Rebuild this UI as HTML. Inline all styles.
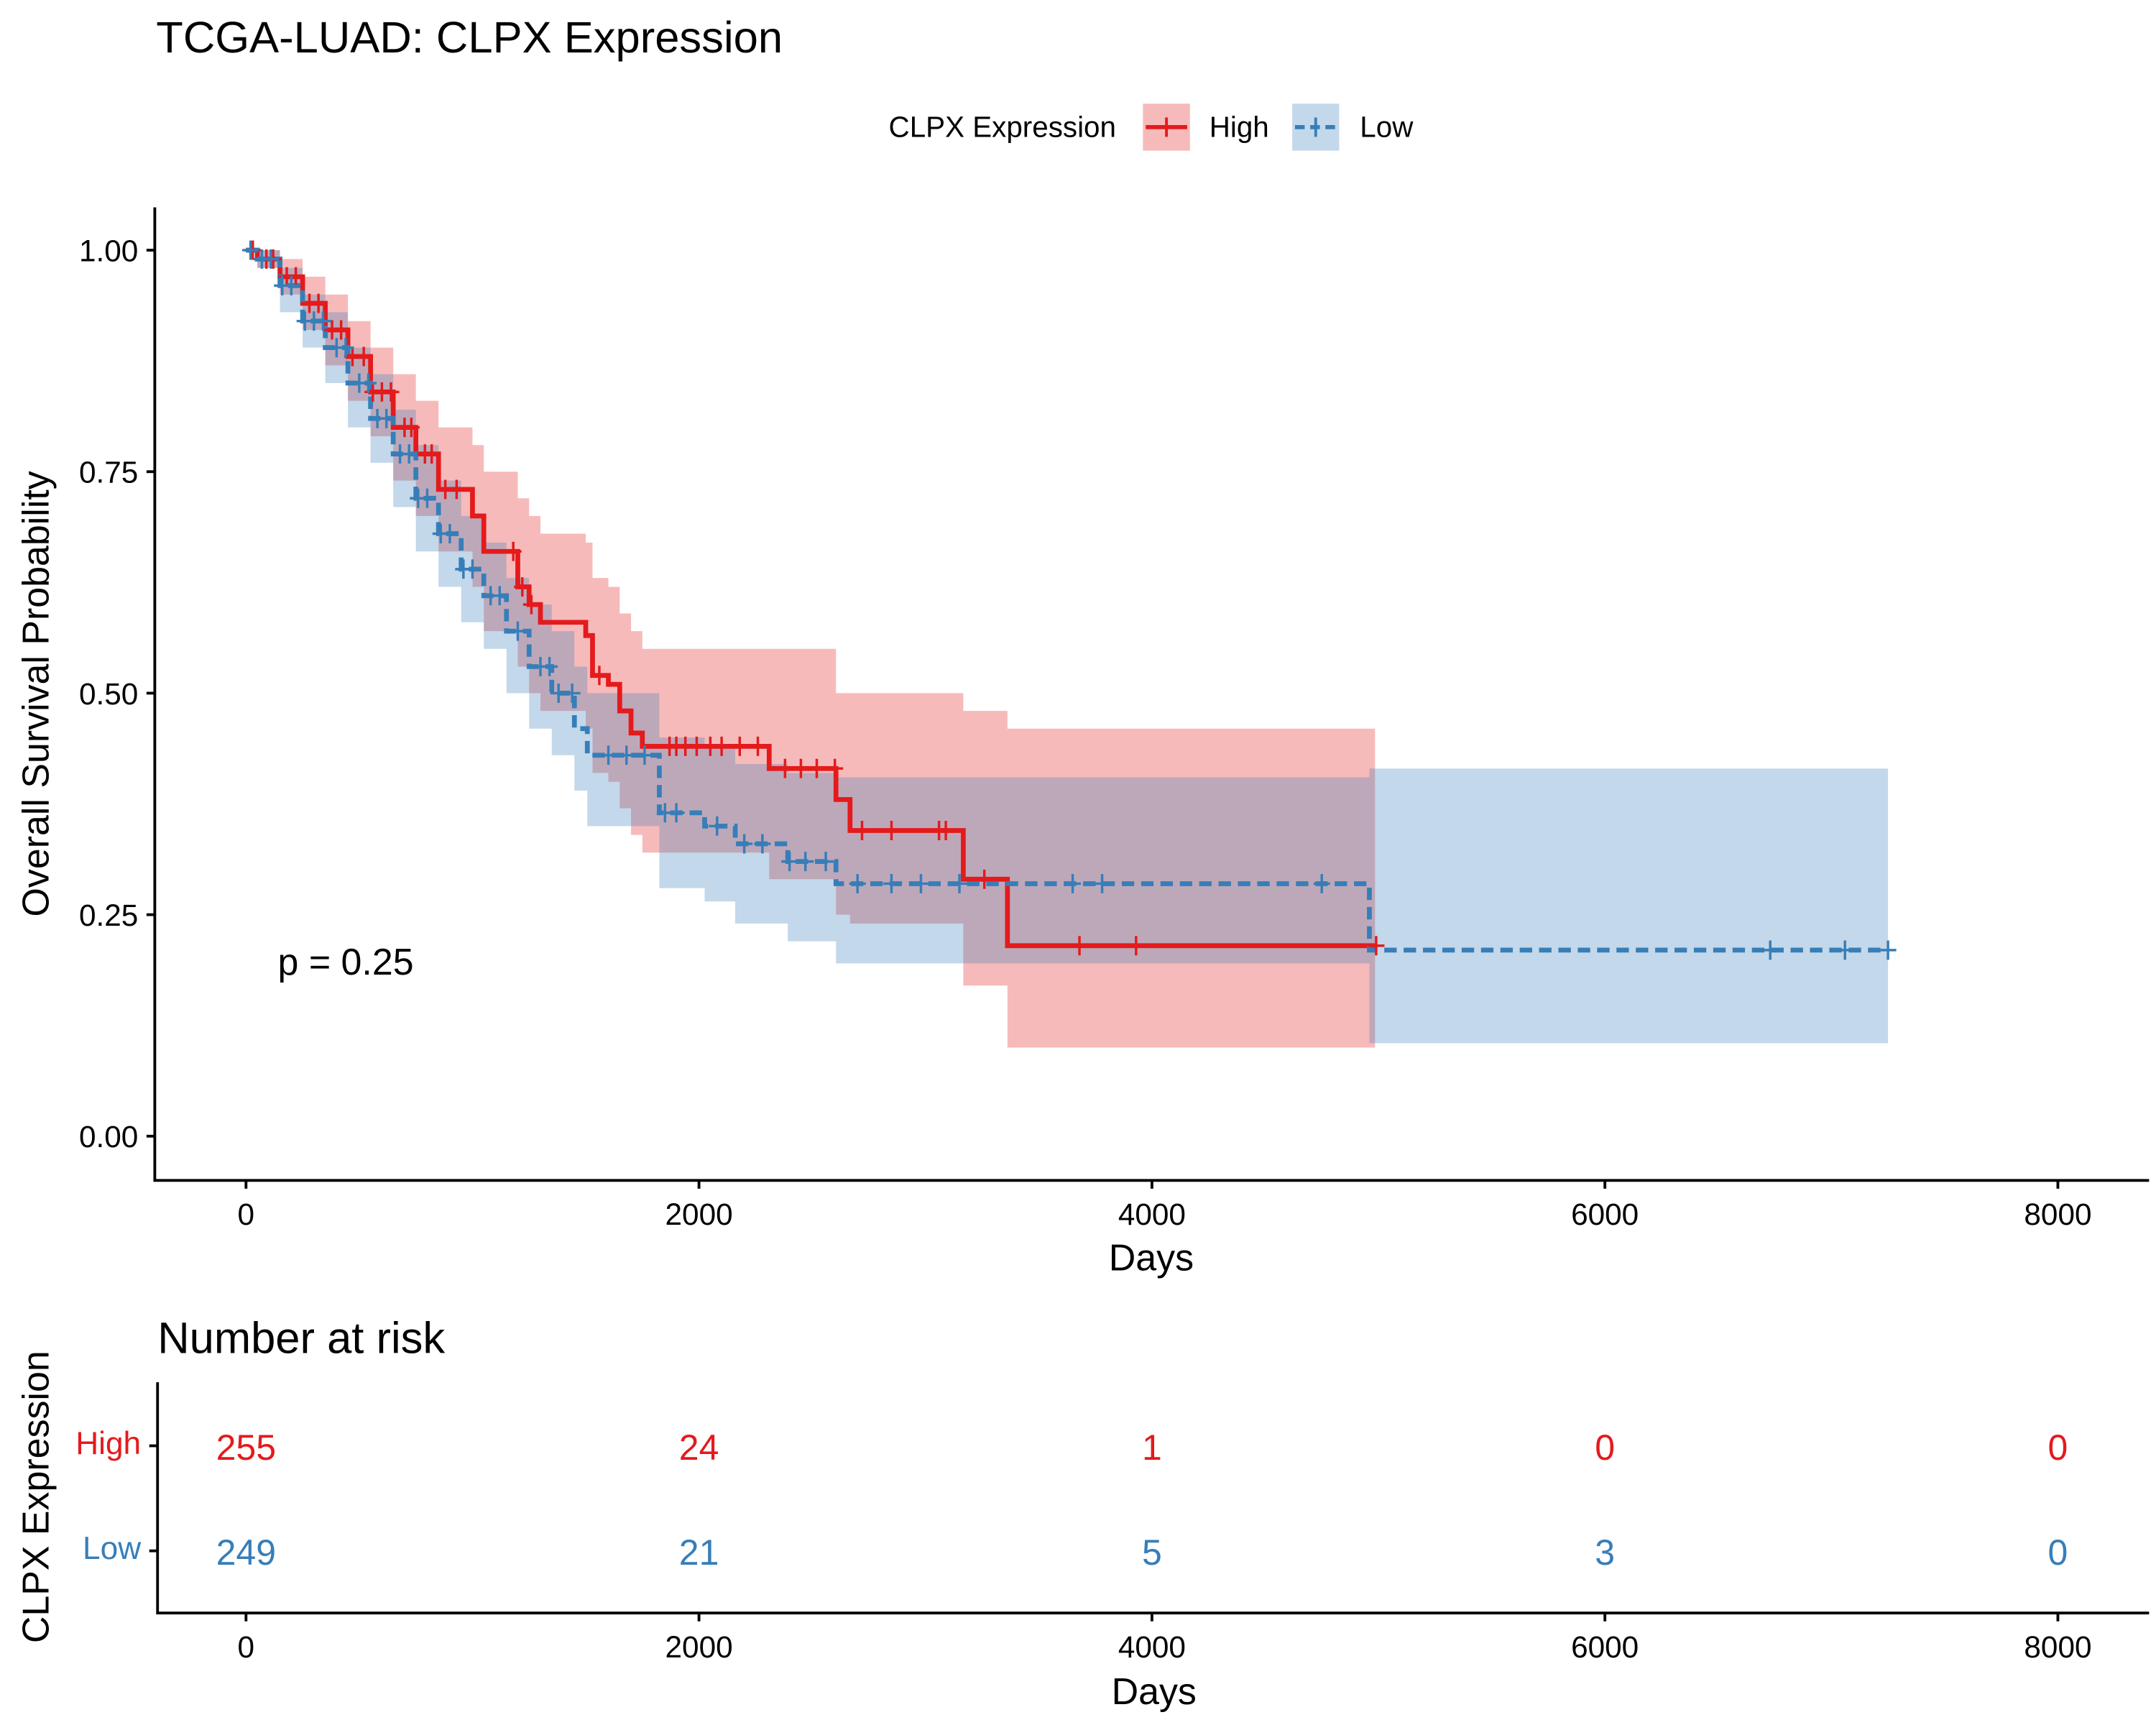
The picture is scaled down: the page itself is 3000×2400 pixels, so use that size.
<!DOCTYPE html>
<html><head><meta charset="utf-8"><style>
html,body{margin:0;padding:0;background:#fff}
svg{display:block;font-family:"Liberation Sans",Arial,sans-serif}
</style></head><body>
<svg id="chart" width="3000" height="2400" viewBox="0 0 1560 1248" xmlns="http://www.w3.org/2000/svg">
<text x="113" y="38" font-size="32">TCGA-LUAD: CLPX Expression</text>
<g>
<text x="643" y="99" font-size="21">CLPX Expression</text>
<rect x="827" y="75" width="34" height="34" fill="#E41A1C" fill-opacity="0.3"/>
<line x1="829" y1="92" x2="859" y2="92" stroke="#E41A1C" stroke-width="3"/><line x1="844" y1="85" x2="844" y2="99" stroke="#E41A1C" stroke-width="2"/>
<text x="875" y="99" font-size="21">High</text>
<rect x="935" y="75" width="34" height="34" fill="#377EB8" fill-opacity="0.3"/>
<line x1="937" y1="92" x2="967" y2="92" stroke="#377EB8" stroke-width="3" stroke-dasharray="7,4"/><line x1="952" y1="85" x2="952" y2="99" stroke="#377EB8" stroke-width="2"/>
<text x="984" y="99" font-size="21">Low</text>
</g>
<g id="plot"></g>
<g id="risk"></g>
</svg>
<script>
const highT=[0,50,150,250,350,450,550,650,750,850,1000,1050,1200,1250,1300,1500,1530,1600,1650,1700,1750,2310,2605,2667,3167,3362];
const highS=[1,0.99,0.97,0.94,0.91,0.88,0.84,0.80,0.77,0.73,0.70,0.66,0.62,0.60,0.58,0.565,0.52,0.51,0.48,0.455,0.44,0.415,0.38,0.345,0.29,0.215];
const highLo=[1,0.98,0.95,0.91,0.87,0.83,0.79,0.74,0.70,0.66,0.62,0.57,0.53,0.50,0.48,0.46,0.41,0.40,0.37,0.34,0.32,0.29,0.25,0.24,0.17,0.10];
const highUp=[1,1,0.99,0.97,0.95,0.92,0.89,0.86,0.83,0.80,0.78,0.75,0.72,0.70,0.68,0.67,0.63,0.62,0.59,0.57,0.55,0.55,0.50,0.50,0.48,0.46];
const highEnd=4985;
const highCens=[30,90,120,180,220,280,320,380,420,470,520,560,600,640,700,730,790,820,880,930,1180,1220,1260,1560,1870,1900,1940,1990,2050,2100,2180,2260,2380,2450,2520,2600,2720,2850,3060,3090,3260,3680,3930,4990];
const lowT=[0,50,150,250,350,450,550,650,750,850,950,1050,1150,1250,1350,1450,1507,1825,2025,2160,2392,2605,4960];
const lowS=[1,0.99,0.96,0.92,0.89,0.85,0.81,0.77,0.72,0.68,0.64,0.61,0.57,0.53,0.50,0.46,0.43,0.365,0.35,0.33,0.31,0.285,0.21];
const lowLo=[1,0.98,0.93,0.89,0.85,0.80,0.76,0.71,0.66,0.62,0.58,0.55,0.50,0.46,0.43,0.39,0.35,0.28,0.265,0.24,0.22,0.195,0.105];
const lowUp=[1,1,0.98,0.95,0.93,0.89,0.86,0.82,0.78,0.74,0.70,0.67,0.63,0.60,0.57,0.53,0.50,0.45,0.44,0.42,0.41,0.405,0.415];
const lowEnd=7250;
const lowCens=[20,70,110,160,200,260,300,340,400,440,500,540,580,620,680,720,760,800,860,900,960,1000,1080,1120,1200,1300,1340,1380,1440,1600,1680,1760,1850,1900,2080,2200,2280,2400,2470,2560,2700,2850,2980,3150,3650,3780,4750,6730,7060,7250];
const xTicks=[0,2000,4000,6000,8000];
const yTicks=[0,0.25,0.5,0.75,1];
const riskGroups=["High","Low"];
const riskHigh=[255,24,1,0,0];
const riskLow=[249,21,5,3,0];

const NS="http://www.w3.org/2000/svg";
const X=d=>178+d*(1489-178)/8000;
const Y=s=>822-s*(822-181);
function mk(tag,attrs,parent){const e=document.createElementNS(NS,tag);for(const k in attrs)e.setAttribute(k,attrs[k]);parent.appendChild(e);return e;}
const plot=document.getElementById('plot');
const risk=document.getElementById('risk');

function stepPath(T,S,end){let d=`M${X(T[0])},${Y(S[0])}`;for(let i=1;i<T.length;i++){d+=`H${X(T[i])}V${Y(S[i])}`;}d+=`H${X(end)}`;return d;}
function ribbon(T,Lo,Up,end){let top=`M${X(T[0])},${Y(Up[0])}`;for(let i=1;i<T.length;i++)top+=`H${X(T[i])}V${Y(Up[i])}`;top+=`H${X(end)}V${Y(Lo[Lo.length-1])}`;for(let i=T.length-1;i>=1;i--)top+=`H${X(T[i])}V${Y(Lo[i-1])}`;top+=`H${X(T[0])}Z`;return top;}
function survAt(T,S,t){let s=S[0];for(let i=0;i<T.length;i++)if(T[i]<=t)s=S[i];return s;}

const rh=mk('path',{d:ribbon(highT,highLo,highUp,highEnd),fill:'#E41A1C','fill-opacity':0.3},plot);


const rl=mk('path',{d:ribbon(lowT,lowLo,lowUp,lowEnd),fill:'#377EB8','fill-opacity':0.3},plot);


const lh=mk('path',{d:stepPath(highT,highS,highEnd),fill:'none',stroke:'#E41A1C','stroke-width':3.5},plot);


const ll=mk('path',{d:stepPath(lowT,lowS,lowEnd),fill:'none',stroke:'#377EB8','stroke-width':3.5,'stroke-dasharray':'9,5'},plot);


function cens(times,T,S,col,name){times.forEach(t=>{const x=X(t),y=Y(survAt(T,S,t));const g=mk('path',{d:`M${x-6},${y}H${x+6}M${x},${y-7}V${y+7}`,stroke:col,'stroke-width':1.8},plot);

});}
cens(highCens,highT,highS,'#E41A1C','censor-mark-high');
cens(lowCens,lowT,lowS,'#377EB8','censor-mark-low');

mk('path',{d:'M112,150V854H1555',fill:'none',stroke:'#000','stroke-width':2},plot);
yTicks.forEach(v=>{mk('line',{x1:106,x2:112,y1:Y(v),y2:Y(v),stroke:'#000','stroke-width':2},plot);
const t=mk('text',{x:100,y:Y(v)+8,'font-size':22,'text-anchor':'end'},plot);t.textContent=v.toFixed(2);

});
xTicks.forEach(v=>{mk('line',{x1:X(v),x2:X(v),y1:854,y2:860,stroke:'#000','stroke-width':2},plot);
const t=mk('text',{x:X(v),y:886,'font-size':22,'text-anchor':'middle'},plot);t.textContent=v;

});
let t=mk('text',{x:833,y:919,'font-size':27,'text-anchor':'middle'},plot);t.textContent='Days';


t=mk('text',{x:0,y:0,'font-size':27,'text-anchor':'middle',transform:'translate(35,502) rotate(-90)'},plot);t.textContent='Overall Survival Probability';


t=mk('text',{x:201,y:705,'font-size':27},plot);t.textContent='p = 0.25';



t=mk('text',{x:114,y:979,'font-size':32},risk);t.textContent='Number at risk';


mk('path',{d:'M114,1000V1167H1555',fill:'none',stroke:'#000','stroke-width':2},risk);
const rowY=[1046,1122],rowCol=['#E41A1C','#377EB8'],rowVals=[riskHigh,riskLow];
riskGroups.forEach((g,i)=>{mk('line',{x1:108,x2:114,y1:rowY[i],y2:rowY[i],stroke:'#000','stroke-width':2},risk);
const l=mk('text',{x:102,y:rowY[i]+6,'font-size':23,'text-anchor':'end',fill:rowCol[i]},risk);l.textContent=g;


rowVals[i].forEach((v,j)=>{const c=mk('text',{x:X(xTicks[j]),y:rowY[i]+10,'font-size':26,'text-anchor':'middle',fill:rowCol[i]},risk);c.textContent=v;

});});
xTicks.forEach(v=>{mk('line',{x1:X(v),x2:X(v),y1:1167,y2:1173,stroke:'#000','stroke-width':2},risk);
const c=mk('text',{x:X(v),y:1199,'font-size':22,'text-anchor':'middle'},risk);c.textContent=v;

});
t=mk('text',{x:835,y:1233,'font-size':27,'text-anchor':'middle'},risk);t.textContent='Days';


t=mk('text',{x:0,y:0,'font-size':27,'text-anchor':'middle',transform:'translate(35,1083) rotate(-90)'},risk);t.textContent='CLPX Expression';


</script>
</body></html>
